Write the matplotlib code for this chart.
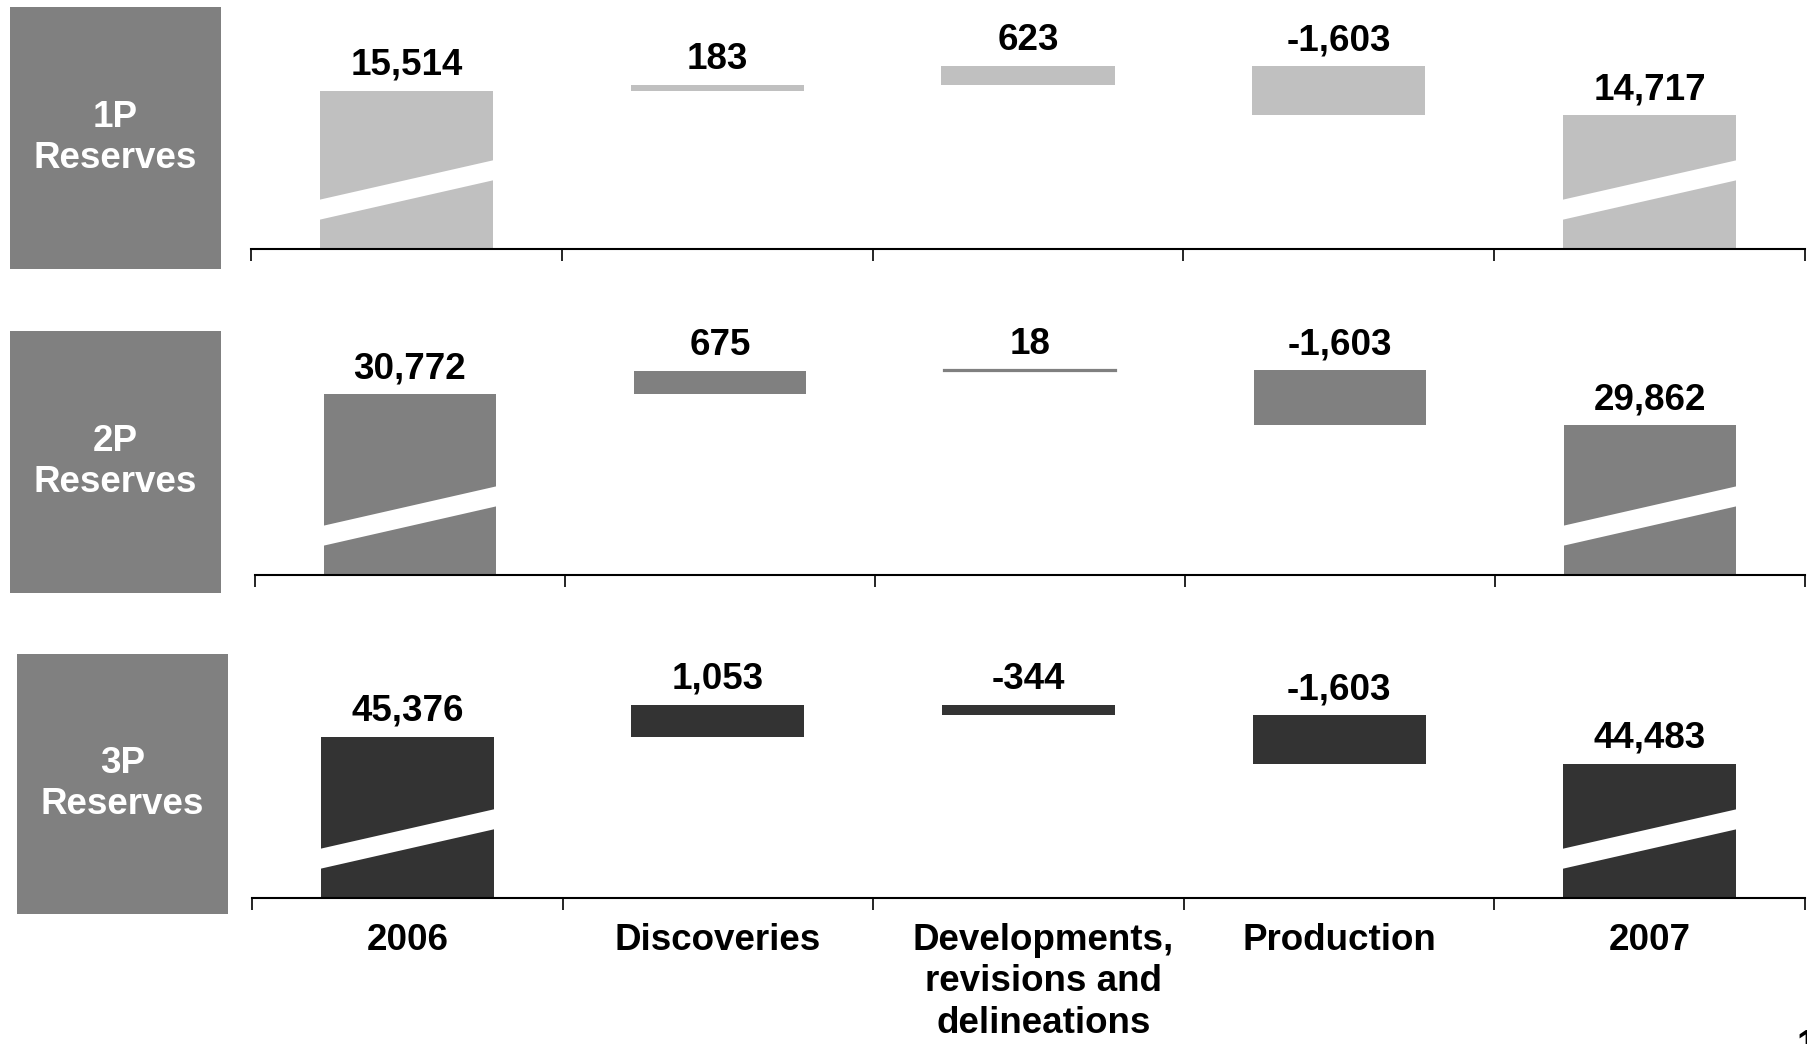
import matplotlib
matplotlib.use("Agg")
import matplotlib.pyplot as plt
from matplotlib.patches import Polygon, Rectangle
from matplotlib.transforms import blended_transform_factory, ScaledTranslation
import numpy as np

# ---- data -------------------------------------------------------------
categories = ["2006", "Discoveries", "Developments,\nrevisions and\ndelineations",
              "Production", "2007"]
panel_titles = ["1P\nReserves", "2P\nReserves", "3P\nReserves"]

reserves_1p = [15514, 183, 623, -1603, 14717]
reserves_2p = [30772, 675, 18, -1603, 29862]
reserves_3p = [45376, 1053, -344, -1603, 44483]
series = [reserves_1p, reserves_2p, reserves_3p]

# ---- styling ----------------------------------------------------------
bar_colors = ["#c0c0c0", "#808080", "#333333"]
box_color = "#808080"
axis_floor = [10380, 25540, 40030]      # value at which each broken axis begins
px_per_unit = [0.0308, 0.0346, 0.0302]  # vertical scale of each panel

W, H = 1808, 1044
DPI = 100
FONT = "Liberation Sans"
FS = 26.5

# pixel layout of each panel: axes span, baseline, top, and the title box
layout = [
    dict(left=251, right=1805, base=249, top=4,   box=(10, 7, 221, 269)),
    dict(left=255, right=1805, base=575, top=330, box=(10, 331, 221, 593)),
    dict(left=252, right=1805, base=898, top=655, box=(17, 654, 228, 914)),
]

plt.rcParams["font.family"] = [FONT, "DejaVu Sans"]
fig = plt.figure(figsize=(W / DPI, H / DPI), dpi=DPI)
fig.patch.set_facecolor("white")

bar_w = 0.557

for k, (vals, lay) in enumerate(zip(series, layout)):
    ax_h_px = lay["base"] - lay["top"]
    ax = fig.add_axes([lay["left"] / W, 1 - lay["base"] / H,
                       (lay["right"] - lay["left"]) / W, ax_h_px / H])
    lo = axis_floor[k]
    hi = lo + ax_h_px / px_per_unit[k]
    ax.set_ylim(lo, hi)
    ax.set_xlim(-0.5, len(categories) - 0.5)

    color = bar_colors[k]
    x = np.arange(len(categories))

    # waterfall geometry
    bottoms, heights = [], []
    running = vals[0]
    bottoms.append(0); heights.append(vals[0])
    for v in vals[1:-1]:
        if v >= 0:
            bottoms.append(running); heights.append(v)
        else:
            bottoms.append(running + v); heights.append(-v)
        running += v
    bottoms.append(0); heights.append(vals[-1])

    for i in range(len(vals)):
        thin = heights[i] < 100
        ax.bar(x[i], heights[i], bottom=bottoms[i], width=bar_w, color=color,
               edgecolor=color if thin else "none", linewidth=1.6 if thin else 0,
               zorder=2)
        top_edge = bottoms[i] + heights[i]
        ax.annotate(f"{vals[i]:,}", xy=(x[i], top_edge), xytext=(0, 18.3),
                    textcoords="offset points", ha="center", va="center",
                    fontsize=FS, fontweight="bold", color="black",
                    fontfamily=[FONT, "DejaVu Sans"], zorder=5)

    # axis break marks on the totals bars
    tr = blended_transform_factory(ax.transData, ax.transAxes)
    f = lambda px: px / ax_h_px
    for i in (0, len(vals) - 1):
        xl, xr = x[i] - bar_w / 2 - 0.005, x[i] + bar_w / 2 + 0.005
        poly = Polygon([(xl, f(29)), (xr, f(69)), (xr, f(89)), (xl, f(49))],
                       closed=True, transform=tr, facecolor="white",
                       edgecolor="none", zorder=3)
        ax.add_patch(poly)

    # axes styling
    for s in ("left", "right", "top"):
        ax.spines[s].set_visible(False)
    ax.spines["bottom"].set_linewidth(1.5)
    ax.spines["bottom"].set_color("black")
    ax.set_yticks([])
    ax.set_xticks(np.arange(-0.5, len(categories), 1.0))
    ax.set_xticklabels([])
    ax.tick_params(axis="x", which="major", direction="out", length=8.3,
                   width=1.2, color="black")
    if k == len(series) - 1:
        ax.set_xticks(x, minor=True)
        ax.set_xticklabels(categories, minor=True, fontsize=FS,
                           fontweight="bold", linespacing=1.24)
        ax.tick_params(axis="x", which="minor", length=0, pad=18)
        for j, lbl in enumerate(ax.get_xticklabels(minor=True)):
            lbl.set_ha("center")
            if j == 2:
                lbl.set_transform(lbl.get_transform() +
                                  ScaledTranslation(15 / DPI, 0, fig.dpi_scale_trans))
    ax.set_facecolor("none")

    # title box on the left
    bx0, by0, bx1, by1 = lay["box"]
    fig.patches.append(Rectangle((bx0 / W, 1 - by1 / H), (bx1 - bx0) / W,
                                 (by1 - by0) / H, transform=fig.transFigure,
                                 facecolor=box_color, edgecolor="none"))
    fig.text((bx0 + bx1) / 2 / W, 1 - (by0 + by1) / 2 / H, panel_titles[k],
             ha="center", va="center", color="white", fontsize=FS,
             fontweight="bold", linespacing=1.22)

# page number, partly outside the page edge
fig.text(1797 / W, -12 / H, "1", fontsize=FS, fontweight="bold",
         ha="left", va="baseline")

fig.savefig("out.png", dpi=DPI, facecolor="white")
